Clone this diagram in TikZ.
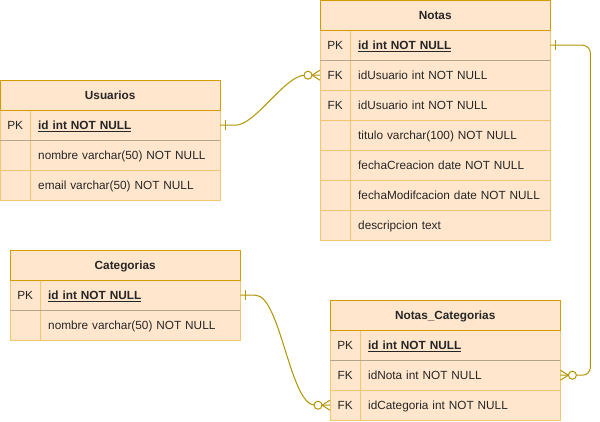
\documentclass[tikz,border=0pt]{standalone}
\usepackage{fontspec}
\setmainfont{Liberation Sans}
\usetikzlibrary{calc}
\definecolor{ordark}{HTML}{D79B00}
\definecolor{orfill}{HTML}{FFE6CC}
\definecolor{orlight}{HTML}{F2C66E}
\definecolor{pkline}{HTML}{B3A48C}
\definecolor{relc}{HTML}{B09500}
\definecolor{txt}{HTML}{262626}
\tikzset{
  celltext/.style={text height=9.6pt, text depth=0.6pt, text=txt},
  hdr/.style={draw=ordark, fill=orfill, minimum height=30pt, inner sep=0pt, anchor=north west,
    celltext, font=\fontsize{11.8}{14}\selectfont\bfseries},
  keycell/.style={draw=orlight, fill=orfill, minimum width=30pt, minimum height=30pt, inner sep=0pt,
    anchor=north west, celltext},
  fieldcell/.style={draw=orlight, fill=orfill, minimum height=30pt, inner xsep=8pt, inner ysep=0pt,
    anchor=north west, align=left, celltext},
  pkrow/.style={draw=pkline},
  rel/.style={draw=relc, line width=1pt},
}
\newcommand\erone[2]{\draw[rel] ($(#1)+(#2*5,-5)$) -- ($(#1)+(#2*5,5)$);}
\newcommand\ermany[2]{%
  \draw[rel] ($(#1)+(0,-5)$) -- ($(#1)+(#2*8,0)$) -- ($(#1)+(0,5)$);
  \draw[rel, fill=white] ($(#1)+(#2*12,0)$) circle (4pt);}
\begin{document}
\begin{tikzpicture}[x=1pt, y=-1pt, font=\fontsize{11.8}{14}\selectfont]
\useasboundingbox (0,0) rectangle (600,421);

% ---------- Usuarios ----------
\node[keycell] (u0k) at (0,110) {PK};
\node[fieldcell, text width=174pt] (u0) at (30,110) {\textbf{\underline{id int NOT NULL}}};
\node[keycell] (u1k) at (0,140) {};
\node[fieldcell, text width=174pt] (u1) at (30,140) {nombre varchar(50) NOT NULL};
\node[keycell] (u2k) at (0,170) {};
\node[fieldcell, text width=174pt] (u2) at (30,170) {email varchar(50) NOT NULL};
\draw[pkrow] (u0k.south west) -- (u0.south east);
\node[hdr, minimum width=220pt] (usu) at (0,80) {Usuarios};

% ---------- Notas ----------
\node[keycell] (n0k) at (320,30) {PK};
\node[fieldcell, text width=184pt] (n0) at (350,30) {\textbf{\underline{id int NOT NULL}}};
\node[keycell] (n1k) at (320,60) {FK};
\node[fieldcell, text width=184pt] (n1) at (350,60) {idUsuario int NOT NULL};
\node[keycell] (n2k) at (320,90) {FK};
\node[fieldcell, text width=184pt] (n2) at (350,90) {idUsuario int NOT NULL};
\node[keycell] (n3k) at (320,120) {};
\node[fieldcell, text width=184pt] (n3) at (350,120) {titulo varchar(100) NOT NULL};
\node[keycell] (n4k) at (320,150) {};
\node[fieldcell, text width=184pt] (n4) at (350,150) {fechaCreacion date NOT NULL};
\node[keycell] (n5k) at (320,180) {};
\node[fieldcell, text width=184pt] (n5) at (350,180) {\mbox{fechaModifcacion date NOT NULL}};
\node[keycell] (n6k) at (320,210) {};
\node[fieldcell, text width=184pt] (n6) at (350,210) {descripcion text};
\draw[pkrow] (n0k.south west) -- (n0.south east);
\node[hdr, minimum width=230pt] (not) at (320,0) {Notas};

% ---------- Categorias ----------
\node[keycell] (c0k) at (10,280) {PK};
\node[fieldcell, text width=184pt] (c0) at (40,280) {\textbf{\underline{id int NOT NULL}}};
\node[keycell] (c1k) at (10,310) {};
\node[fieldcell, text width=184pt] (c1) at (40,310) {nombre varchar(50) NOT NULL};
\draw[pkrow] (c0k.south west) -- (c0.south east);
\node[hdr, minimum width=230pt] (cat) at (10,250) {Categorias};

% ---------- Notas_Categorias ----------
\node[keycell] (nc0k) at (330,330) {PK};
\node[fieldcell, text width=184pt] (nc0) at (360,330) {\textbf{\underline{id int NOT NULL}}};
\node[keycell] (nc1k) at (330,360) {FK};
\node[fieldcell, text width=184pt] (nc1) at (360,360) {idNota int NOT NULL};
\node[keycell] (nc2k) at (330,390) {FK};
\node[fieldcell, text width=184pt] (nc2) at (360,390) {idCategoria int NOT NULL};
\draw[pkrow] (nc0k.south west) -- (nc0.south east);
\node[hdr, minimum width=230pt] (nct) at (330,300) {Notas\_Categorias};

% ---------- Relations ----------
\draw[rel] (u0.east) -- ++(15,0) .. controls +(20,0) and +(-20,0) .. ($(n1k.west)+(-15,0)$) -- (n1k.west);
\draw[rel, rounded corners=8pt] (n0.east) -| ($(nc1.east)+(30,0)$) -- (nc1.east);
\draw[rel] (c0.east) -- ++(15,0) .. controls +(25,0) and +(-25,0) .. ($(nc2k.west)+(-15,0)$) -- (nc2k.west);

\erone{u0.east}{1}
\ermany{n1k.west}{-1}
\erone{n0.east}{1}
\ermany{nc1.east}{1}
\erone{c0.east}{1}
\ermany{nc2k.west}{-1}
\end{tikzpicture}
\end{document}
